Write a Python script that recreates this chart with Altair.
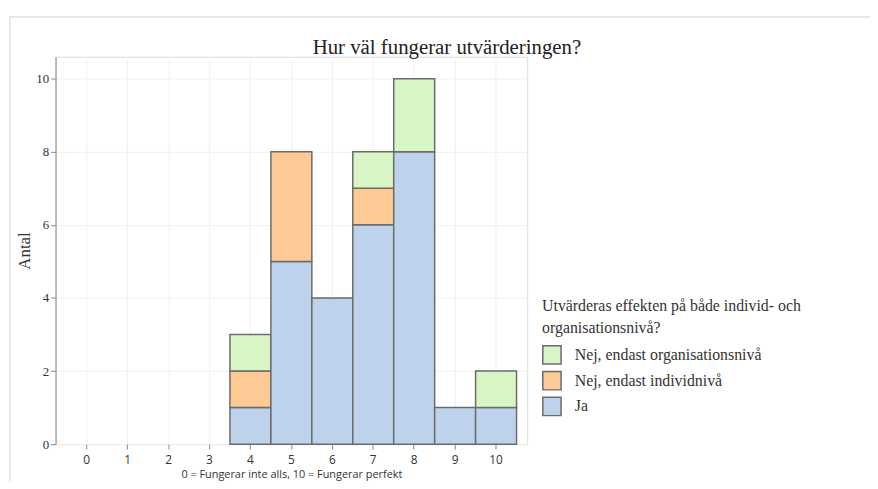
import altair as alt
import pandas as pd

scores = [4, 5, 6, 7, 8, 9, 10]
ja = [1, 5, 4, 6, 8, 1, 1]
individ = [1, 3, 0, 1, 0, 0, 0]
org = [1, 0, 0, 1, 2, 0, 1]

all_scores = list(range(0, 11))
cat_org = "Nej, endast organisationsnivå"
cat_ind = "Nej, endast individnivå"
cat_ja = "Ja"
categories = [cat_org, cat_ind, cat_ja]
stack_rank = {cat_ja: 0, cat_ind: 1, cat_org: 2}
colors = ["#d9f5c5", "#fdc994", "#bfd2eb"]
chart_title = ["Hur väl fungerar utvärderingen?"]

rows = []
for s, a, b, c in zip(scores, ja, individ, org):
    for cat, v in ((cat_ja, a), (cat_ind, b), (cat_org, c)):
        if v > 0:
            rows.append({"score": s, "kategori": cat, "antal": v, "rank": stack_rank[cat]})
df = pd.DataFrame(rows)

SERIF = "Liberation Serif"
SANS = "Open Sans"

bars = alt.Chart(df).mark_bar(stroke="#6b6b6b", strokeWidth=1.5).encode(
    x=alt.X(
        "score:O",
        scale=alt.Scale(domain=all_scores, paddingInner=0, paddingOuter=0.26),
        axis=alt.Axis(
            title="0 = Fungerar inte alls, 10 = Fungerar perfekt",
            labelAngle=0,
            labelFont=SANS,
            labelFontSize=12,
            labelColor="#333333",
            titleFont=SANS,
            titleFontSize=11,
            titleFontWeight="normal",
            titleColor="#333333",
            titlePadding=3,
            bandPosition=0.5,
            grid=True,
            gridColor="#f0f0f0",
            tickColor="#888888",
            tickSize=5,
            domain=False,
            labelPadding=6,
        ),
    ),
    y=alt.Y(
        "antal:Q",
        stack="zero",
        scale=alt.Scale(domain=[0, 10.6], nice=False),
        axis=alt.Axis(
            title="Antal",
            values=[0, 2, 4, 6, 8, 10],
            labelFont=SERIF,
            labelFontSize=13,
            labelColor="#333333",
            titleFont=SERIF,
            titleFontSize=17,
            titleFontWeight="normal",
            titleColor="#333333",
            titlePadding=2,
            grid=True,
            gridColor="#f0f0f0",
            tickColor="#888888",
            tickSize=5,
            domainColor="#888888",
        ),
    ),
    color=alt.Color(
        "kategori:N",
        scale=alt.Scale(domain=categories, range=colors),
        legend=alt.Legend(
            title=["Utvärderas effekten på både individ- och", "organisationsnivå?"],
            orient="none",
            legendX=491,
            legendY=244,
            titleFont=SERIF,
            titleFontSize=16,
            titleFontWeight="normal",
            titleColor="#333333",
            titleLimit=400,
            titleLineHeight=22,
            titlePadding=9,
            labelFont=SERIF,
            labelFontSize=16,
            labelColor="#333333",
            labelLimit=400,
            symbolType="square",
            symbolSize=340,
            symbolStrokeColor="#6b6b6b",
            symbolStrokeWidth=1.5,
            symbolOpacity=1,
            rowPadding=0,
            labelOffset=13,
        ),
    ),
    order=alt.Order("rank:Q", sort="ascending"),
)

frame = alt.Chart(pd.DataFrame({"a": [0]})).mark_rect(
    fill=None, stroke="#e0e0e0", strokeWidth=1.5
).encode(
    x=alt.value(-46), x2=alt.value(870), y=alt.value(-40), y2=alt.value(480)
)

title = alt.Chart(pd.DataFrame({"t": chart_title})).mark_text(
    font=SERIF, fontSize=21, color="#222222", align="center", baseline="alphabetic"
).encode(
    text="t:N", x=alt.value(395), y=alt.value(-3)
)

chart = alt.layer(frame, bars, title).properties(
    width=476,
    height=391,
    autosize=alt.AutoSizeParams(type="none"),
    padding={"left": 48, "top": 47, "right": 346, "bottom": 35},
).configure_view(stroke="#888888", strokeWidth=1.5).configure(background="white")

chart.save("out.html", embed_options={"renderer": "svg", "actions": False})
